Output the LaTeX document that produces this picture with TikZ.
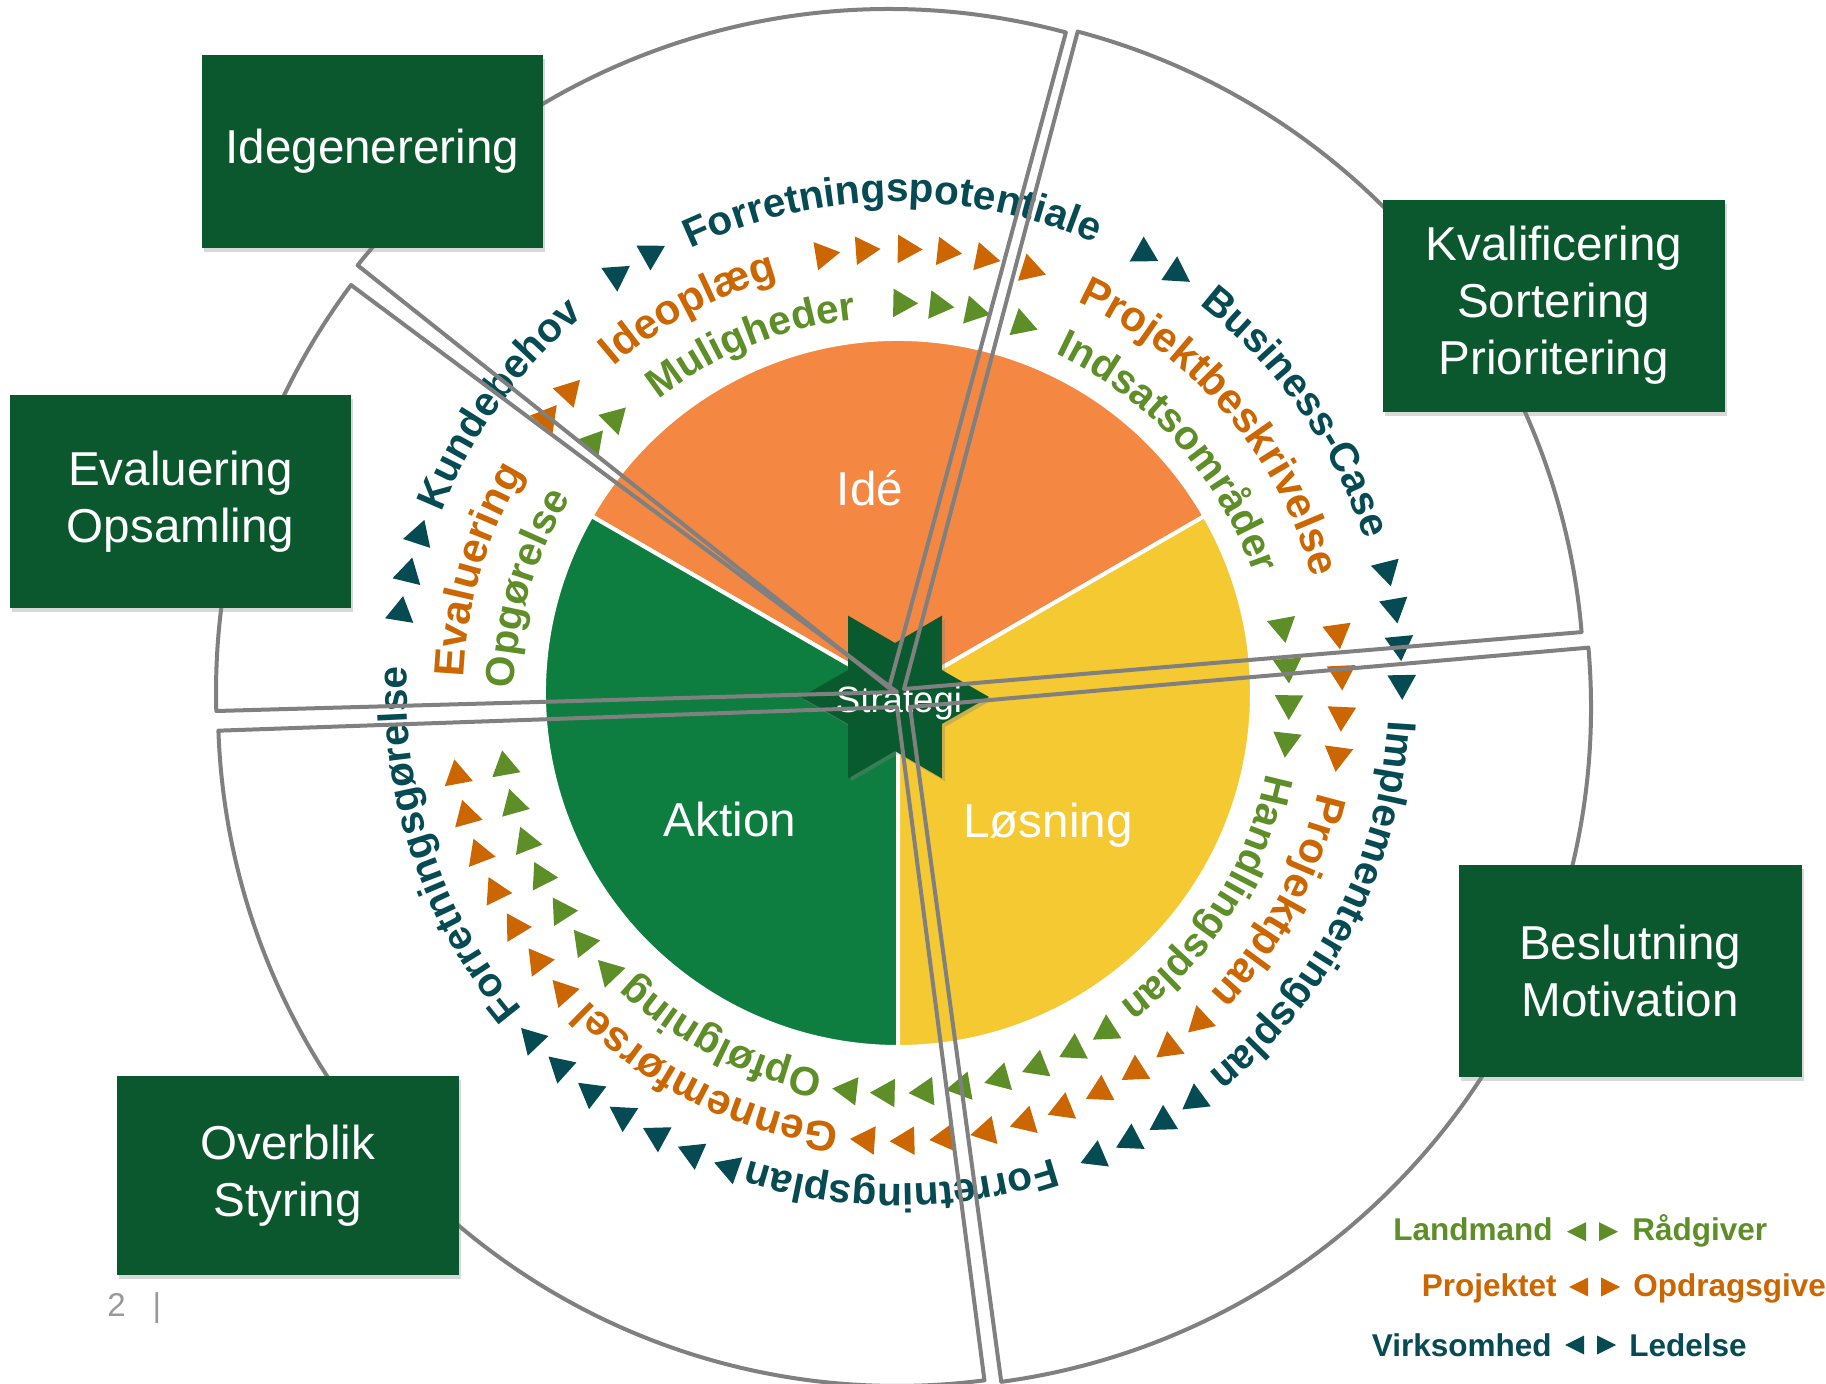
\documentclass[tikz,border=0pt]{standalone}
\usepackage{fontspec}
\setmainfont{Liberation Sans}
\usetikzlibrary{decorations.text,shadows}
\definecolor{boxgreen}{HTML}{0B582F}
\definecolor{pieorange}{HTML}{F48842}
\definecolor{piegreen}{HTML}{0E7D40}
\definecolor{pieyellow}{HTML}{F4C932}
\definecolor{ringteal}{HTML}{064A54}
\definecolor{ringorange}{HTML}{CC6600}
\definecolor{ringgreen}{HTML}{5E8E28}
\definecolor{wedgegray}{HTML}{808080}
\definecolor{stargreen}{HTML}{0A5A2F}
\definecolor{pagegray}{HTML}{999999}
\newcommand{\tealfmt}{\color{ringteal}\fontsize{20.3}{24}\selectfont\bfseries}
\newcommand{\orangefmt}{\color{ringorange}\fontsize{21.2}{25}\selectfont\bfseries}
\newcommand{\greenfmt}{\color{ringgreen}\fontsize{20.3}{24}\selectfont\bfseries}
% #1 cx, #2 cy, #3 radius, #4 centre angle, #5 format, #6 word
\newcommand{\ringword}[6]{%
  \path[shift={(#1,#2)}, decorate, decoration={text along path, text align=center, text={|#5|#6}}]
    (#4+70:#3) arc[start angle=#4+70, end angle=#4-70, radius=#3];}
% #1 cx, #2 cy, #3 radius, #4 angle, #5 colour
\newcommand{\ringtri}[5]{%
  \fill[#5, shift={(#1,#2)}, rotate=#4] (#3,-16.5) -- (#3+14.3,8.25) -- (#3-14.3,8.25) -- cycle;}
\begin{document}
\begin{tikzpicture}[x=0.5pt,y=0.5pt,
  wedge/.style={draw=wedgegray, line width=2pt, line join=round},
  phasebox/.style={fill=boxgreen, text=white, inner sep=0pt, align=center,
    font=\fontsize{23.8}{28.5}\selectfont,
    drop shadow={shadow xshift=1pt, shadow yshift=-2pt, opacity=0.3}},
  pielabel/.style={text=white, inner sep=0pt, anchor=base, font=\fontsize{23.8}{28.5}\selectfont},
  legtext/.style={inner sep=0pt, font=\fontsize{15.75}{19}\selectfont\bfseries}]
\useasboundingbox (0,0) rectangle (1826,1383);
\clip (0,0) rectangle (1826,1383);
\fill[white] (0,0) rectangle (1826,1383);

% pie
\coordinate (pc) at (898,690);
\fill[pieorange, draw=white, line width=2pt] (pc) -- ++(30:354) arc[start angle=30, end angle=150, radius=354] -- cycle;
\fill[piegreen, draw=white, line width=2pt] (pc) -- ++(150:354) arc[start angle=150, end angle=270, radius=354] -- cycle;
\fill[pieyellow, draw=white, line width=2pt] (pc) -- ++(270:354) arc[start angle=270, end angle=390, radius=354] -- cycle;

% star
\fill[stargreen, drop shadow={shadow xshift=1.5pt, shadow yshift=-1.5pt, opacity=0.35}, shift={(895,686)}]
  (0:94) -- (30:54) -- (60:94) -- (90:54) -- (120:94) -- (150:54) -- (180:94) -- (210:54)
  -- (240:94) -- (270:54) -- (300:94) -- (330:54) -- cycle;
\node[text=white, inner sep=0pt, anchor=base, font=\fontsize{18.3}{22}\selectfont] (strategi) at (899,670) {Strategi};

\node[pielabel] (ide) at (870,877) {Idé};
\node[pielabel] (losning) at (1048,545) {Løsning};
\node[pielabel] (aktion) at (730,546) {Aktion};

% outer ring (teal)
\ringword{898}{690}{491}{198.5}{\tealfmt}{Forretningsgørelse}
\ringword{898}{690}{491}{144.1}{\tealfmt}{Kundebehov}
\ringword{898}{690}{491}{90.7}{\tealfmt}{Forretningspotentiale}
\ringword{898}{690}{491}{35.2}{\tealfmt}{Business-Case}
\ringword{898}{690}{491}{-27}{\tealfmt}{Implementeringsplan}
\ringword{898}{690}{491}{-89.6}{\tealfmt}{Forretningsplan}
\foreach \a in {124.0,119.4,60.8,56.5,14.1,9.8,5.5,1.1,-53.8,-58.2,-62.5,-66.9,223.5,228,232.5,237,241.5,246,250.5,170.8,166.3,161.8}
  {\ringtri{898}{690}{504}{\a}{ringteal}}

% middle ring (orange)
\ringword{896}{688}{433}{163.4}{\orangefmt}{Evaluering}
\ringword{896}{688}{433}{118.2}{\orangefmt}{Ideoplæg}
\ringword{896}{688}{433}{40.5}{\orangefmt}{Projektbeskrivelse}
\ringword{896}{688}{433}{-28.3}{\orangefmt}{Projektplan}
\ringword{896}{688}{433}{-116.4}{\orangefmt}{Gennemførsel}
\foreach \a in {141.6,137.2,99.3,94.1,88.7,83.6,78.6,72.5,8,2.7,-2.6,-7.8,-47,-52.2,-57.5,-62.7,-68,-73.1,-78.3,-83.6,-88.7,-93.8,190.4,195.7,200.9,206.2,211.4,216.7,221.8}
  {\ringtri{896}{688}{446}{\a}{ringorange}}

% inner ring (green)
\ringword{894}{685}{380}{163.4}{\greenfmt}{Opgørelse}
\ringword{894}{685}{380}{112}{\greenfmt}{Muligheder}
\ringword{894}{685}{380}{41.9}{\greenfmt}{Indsatsområder}
\ringword{894}{685}{380}{-32.5}{\greenfmt}{Handlingsplan}
\ringword{894}{685}{380}{-117}{\greenfmt}{Opfølgning}
\foreach \a in {135.1,139.8,88.9,83.6,78.3,71.1,10.4,4.5,-0.8,-6.3,-57.4,-62.9,-68.7,-74.4,-80.1,-85.5,-91.1,-96.6,190,195.7,201.4,206.9,212.7,218.3,223.9}
  {\ringtri{894}{685}{395}{\a}{ringgreen}}

% exploded wedge outlines
\coordinate (a1) at (889,695);
\coordinate (a2) at (904,694);
\coordinate (a3) at (910,676);
\coordinate (a4) at (897,676);
\coordinate (a5) at (897,691);
\draw[wedge] (a1) -- ++(74.9:679) arc[start angle=74.9, end angle=141.5, radius=679] -- cycle;
\draw[wedge] (a2) -- ++(4.8:680) arc[start angle=4.8, end angle=75.2, radius=680] -- cycle;
\draw[wedge] (a3) -- ++(-82.3:681) arc[start angle=-82.3, end angle=5, radius=681] -- cycle;
\draw[wedge] (a4) -- ++(182:679) arc[start angle=182, end angle=277.4, radius=679] -- cycle;
\draw[wedge] (a5) -- ++(143.3:681) arc[start angle=143.3, end angle=181.6, radius=681] -- cycle;

% phase boxes
\node[phasebox, minimum width=170.75pt, minimum height=96.65pt] (idegen) at (372.25,1231.3) {Idegenerering};
\node[phasebox, minimum width=170.8pt, minimum height=106pt] (kval) at (1553.8,1077.4) {Kvalificering\\Sortering\\Prioritering};
\node[phasebox, minimum width=170.75pt, minimum height=106.65pt] (eval) at (180.5,881.3) {Evaluering\\Opsamling};
\node[phasebox, minimum width=171.25pt, minimum height=106pt] (beslut) at (1630.3,412) {Beslutning\\Motivation};
\node[phasebox, minimum width=171.15pt, minimum height=99.5pt] (overblik) at (287.7,207.5) {Overblik\\Styring};

% legend
\node[legtext, text=ringgreen, anchor=base east] (landmand) at (1553,142.3) {Landmand};
\fill[ringgreen] (1567,151.3) -- (1586,160.8) -- (1586,141.8) -- cycle;
\fill[ringgreen] (1618,151.3) -- (1599,160.8) -- (1599,141.8) -- cycle;
\node[legtext, text=ringgreen, anchor=base west] (raadgiver) at (1632,142.3) {Rådgiver};

\node[legtext, text=ringorange, anchor=base east] (projektet) at (1557,86.3) {Projektet};
\fill[ringorange] (1569,96) -- (1588,105.5) -- (1588,86.5) -- cycle;
\fill[ringorange] (1620,96) -- (1601,105.5) -- (1601,86.5) -- cycle;
\node[legtext, text=ringorange, anchor=base west] (opdrag) at (1633,86.3) {Opdragsgiver};

\node[legtext, text=ringteal, anchor=base east] (virksomhed) at (1552,26.3) {Virksomhed};
\fill[ringteal] (1565,38) -- (1584,47.5) -- (1584,28.5) -- cycle;
\fill[ringteal] (1616,38) -- (1597,47.5) -- (1597,28.5) -- cycle;
\node[legtext, text=ringteal, anchor=base west] (ledelse) at (1629,26.3) {Ledelse};

% page number
\node[text=pagegray, inner sep=0pt, anchor=base, font=\fontsize{16.5}{20}\selectfont] (pnum) at (116.5,67) {2};
\node[text=pagegray, inner sep=0pt, anchor=base, font=\fontsize{16.5}{20}\selectfont] (pbar) at (157,67) {|};
\end{tikzpicture}
\end{document}
